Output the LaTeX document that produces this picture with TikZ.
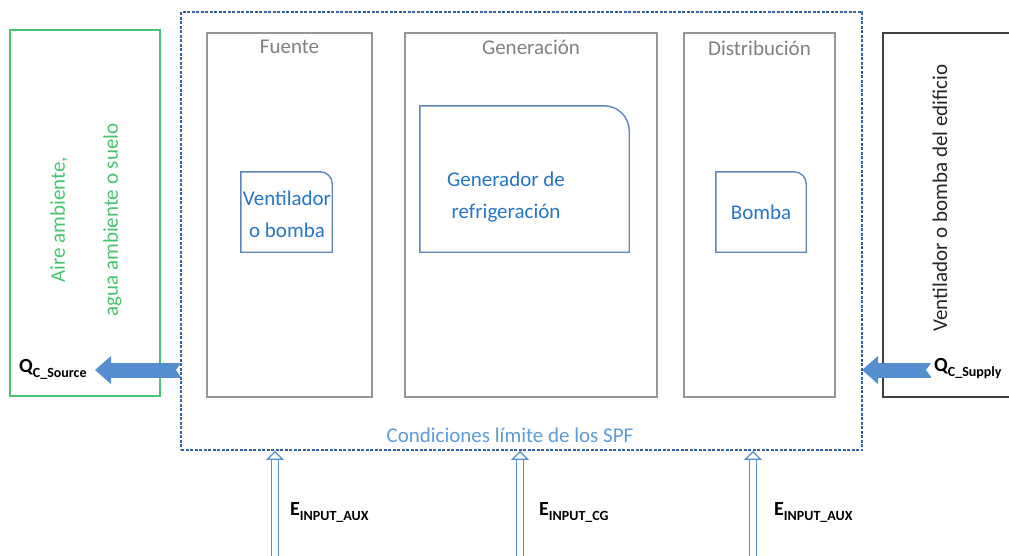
\documentclass[tikz,border=0pt]{standalone}
\usepackage{fontspec}
\setmainfont{Carlito}
\usetikzlibrary{positioning, calc, arrows.meta}

\definecolor{srcgreen}{RGB}{72,196,112}
\definecolor{spfblue}{RGB}{52,100,160}
\definecolor{panelgrey}{RGB}{150,150,150}
\definecolor{titlegrey}{RGB}{128,128,128}
\definecolor{boxblue}{RGB}{96,134,184}
\definecolor{txtblue}{RGB}{38,118,198}
\definecolor{limblue}{RGB}{92,156,216}
\definecolor{heatblue}{RGB}{84,142,206}

\begin{document}
\begin{tikzpicture}
			[x=1pt, y=-1pt,
			font=\fontsize{21}{32}\selectfont,
			panel/.style={draw=panelgrey, line width=1.4pt, minimum height=364pt, inner sep=0pt},
			title/.style={text=titlegrey, inner sep=0pt},
			unit/.style={minimum height=80pt, inner sep=0pt},
			unitline/.style={draw=boxblue, line width=1.4pt},
			unittext/.style={text=txtblue, align=center, inner sep=0pt},
			heat/.style={draw=heatblue, line width=15pt, -{Triangle[length=16pt 0, width=27pt 0]}},
			supply/.style={draw=heatblue, line width=1.3pt, double=white, double distance=6pt, -{Triangle[open, length=9pt 0, width=18pt 0]}},
			flux/.style={font=\bfseries\fontsize{20}{20}\selectfont, inner sep=0pt}]
			\useasboundingbox (0,0) rectangle (1009,555);
			% surroundings
			\node[draw=srcgreen, line width=1.8pt, minimum width=150pt, minimum height=366pt] (src) at (85,213) {};
			\node[text=srcgreen, rotate=90, align=center, font=\fontsize{21}{53}\selectfont] (srct) at (86,220) {Aire ambiente,\\agua ambiente o suelo};
			\node[draw=black!75, line width=1.4pt, minimum width=150pt, minimum height=364pt] (bld) at (958,215) {};
			\node[text=black!85, rotate=90] (bldt) at (940,198) {Ventilador o bomba del edificio};
			% heat flows, drawn below the boundary
			\node[flux, anchor=west] (qsrc) at (19,369) {Q\raisebox{-5pt}{\fontsize{14}{14}\selectfont C\_Source}};
			\node[flux, anchor=west] (qsup) at (934,369) {Q\raisebox{-5pt}{\fontsize{14}{14}\selectfont C\_Supply}};
			\coordinate (qsrcTip) at (95,370);
			\coordinate (qsrcEnd) at (181,370);
			\coordinate (qsupEnd) at (931,370);
			\coordinate (qsupTip) at (862,370);
			\draw[heat] (qsrcEnd) -- (qsrcTip);
			\draw[heat] (qsupEnd) -- (qsupTip);
			\fill[white] ($(qsrcEnd)+(1,-8)$) -- ($(qsrcEnd)+(-5,0)$) -- ($(qsrcEnd)+(1,8)$) -- cycle;
			\fill[white] ($(qsupEnd)+(1,-8)$) -- ($(qsupEnd)+(-5,0)$) -- ($(qsupEnd)+(1,8)$) -- cycle;
			% system boundary
			\node[draw=spfblue, line width=1.8pt, dash pattern=on 3pt off 1.5pt, minimum width=681pt, minimum height=438pt] (spf) at (521.5,231) {};
			\node[text=limblue] (spft) at (510,435) {Condiciones límite de los SPF};
			% panels
			\node[panel, minimum width=165pt] (fue) at (289.5,215) {};
			\node[panel, minimum width=252pt] (gen) at (531,215) {};
			\node[panel, minimum width=151pt] (dis) at (759.5,215) {};
			\node[title] (fuet) [below = 8pt of fue.north] {Fuente};
			\node[title] (gent) [below = 8pt of gen.north] {Generación};
			\node[title] (dist) [below = 8pt of dis.north] {Distribución};
			% units
			\node[unit, minimum width=91pt] (vent) at (286.5,212) {};
			\node[unit, minimum width=209pt, minimum height=146pt] (cool) at (524.5,179) {};
			\node[unit, minimum width=90pt] (bom) at (761,212) {};
			\draw[unitline] (vent.south west) -- (vent.north west) -- ([xshift=-12pt]vent.north east)
				arc[start angle=90, end angle=0, radius=12pt] -- (vent.south east) -- cycle;
			\draw[unitline] (cool.south west) -- (cool.north west) -- ([xshift=-25pt]cool.north east)
				arc[start angle=90, end angle=0, radius=25pt] -- (cool.south east) -- cycle;
			\draw[unitline] (bom.south west) -- (bom.north west) -- ([xshift=-12pt]bom.north east)
				arc[start angle=90, end angle=0, radius=12pt] -- (bom.south east) -- cycle;
			\node[unittext] (ventt) at (287,214) {Ventilador\\o bomba};
			\node[unittext] (coolt) at (506,197) {Generador de\\refrigeración};
			\node[unittext] (bomt) at (bom) {Bomba};
			% auxiliary energy
			\coordinate (aux1) at (275,562);
			\coordinate (cg) at (520,562);
			\coordinate (aux2) at (753,562);
			\draw[supply] (aux1) -- (aux1 |- spf.south);
			\draw[supply] (cg) -- (cg |- spf.south);
			\draw[supply] (aux2) -- (aux2 |- spf.south);
			\node[flux, anchor=west] (eaux1) at (290,512) {E\raisebox{-5pt}{\fontsize{14}{14}\selectfont INPUT\_AUX}};
			\node[flux, anchor=west] (ecg) at (539,512) {E\raisebox{-5pt}{\fontsize{14}{14}\selectfont INPUT\_CG}};
			\node[flux, anchor=west] (eaux2) at (774,512) {E\raisebox{-5pt}{\fontsize{14}{14}\selectfont INPUT\_AUX}};
		\end{tikzpicture}
\end{document}
